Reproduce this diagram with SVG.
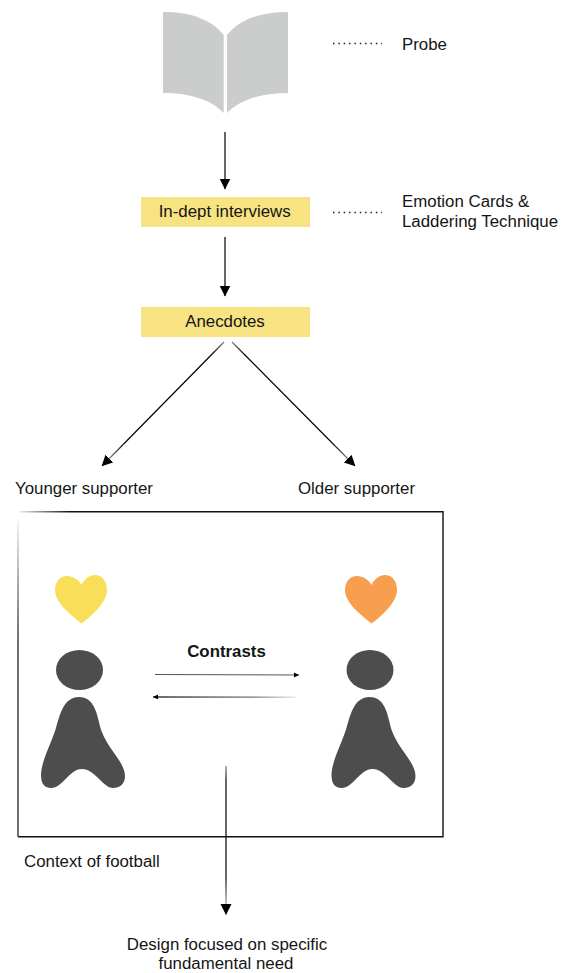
<svg xmlns="http://www.w3.org/2000/svg" width="571" height="973" viewBox="0 0 571 973">
<style>
text{font-family:"Liberation Sans",Arial,sans-serif;font-size:16.85px;fill:#151515}
.m{text-anchor:middle}
.box{fill:#f7e382}
.body{fill:#4d4d4d}
.ln{fill:none;stroke:#000;stroke-width:1.2}
.dot{fill:none;stroke:#222;stroke-width:1.3;stroke-dasharray:1.5 3.85}
.frame{fill:none;stroke:#111;stroke-width:1.4}
</style>
<defs>
<marker id="a" markerUnits="userSpaceOnUse" markerWidth="12" markerHeight="12" refX="10.500" refY="5.500" orient="auto"><path d="M0 0L11 5.500L0 11Z" fill="#000"/></marker>
<marker id="s" markerUnits="userSpaceOnUse" markerWidth="6" markerHeight="6" refX="5" refY="2.500" orient="auto"><path d="M0 0L5 2.500L0 5Z" fill="#000"/></marker>
<linearGradient id="ft" gradientUnits="userSpaceOnUse" x1="20" y1="0" x2="70" y2="0"><stop offset="0" stop-color="#111" stop-opacity="0.1"/><stop offset="1" stop-color="#111"/></linearGradient>
<linearGradient id="fl" gradientUnits="userSpaceOnUse" x1="0" y1="520" x2="0" y2="640"><stop offset="0" stop-color="#111" stop-opacity="0.05"/><stop offset="1" stop-color="#333"/></linearGradient>
<linearGradient id="dl" gradientUnits="userSpaceOnUse" x1="224" y1="342" x2="102" y2="466"><stop offset="0" stop-color="#000" stop-opacity="0.5"/><stop offset="0.1" stop-color="#000"/><stop offset="0.8" stop-color="#000"/><stop offset="1" stop-color="#000" stop-opacity="0.3"/></linearGradient>
<linearGradient id="dr" gradientUnits="userSpaceOnUse" x1="232" y1="342" x2="355" y2="466"><stop offset="0" stop-color="#000" stop-opacity="0.5"/><stop offset="0.1" stop-color="#000"/><stop offset="0.8" stop-color="#000"/><stop offset="1" stop-color="#000" stop-opacity="0.3"/></linearGradient>
<linearGradient id="cb" gradientUnits="userSpaceOnUse" x1="153" y1="0" x2="296" y2="0"><stop offset="0" stop-color="#333"/><stop offset="0.7" stop-color="#777"/><stop offset="1" stop-color="#999" stop-opacity="0.2"/></linearGradient>
<linearGradient id="vd" gradientUnits="userSpaceOnUse" x1="0" y1="766" x2="0" y2="905"><stop offset="0" stop-color="#000" stop-opacity="0.5"/><stop offset="0.1" stop-color="#000"/><stop offset="0.8" stop-color="#000"/><stop offset="1" stop-color="#000" stop-opacity="0.4"/></linearGradient>
<g id="person"><ellipse class="body" cx="79.500" cy="670" rx="23.500" ry="20"/><path class="body" d="M79 697C92 697 96 709 99 722C101 733 106 741 112 750C118 759 125 767 125 776C125 784 120 788 113 788C103 788 95 769 82 769C69 769 63 788 51 788C44 788 41 783 41 775C41 762 51 744 56 728C60 714 64 697 79 697Z"/></g>
<path id="heart" d="M81.500 585C84 579 90 575 95 575C102 575 107 581 107 590C107 602 92 616 81.500 623.500C71 615 55 603 55 590C55 582 60 576 67 576C73 576 79 580 81.500 585Z"/>
</defs>
<g id="connectors">
<path class="ln" marker-end="url(#a)" d="M225 132V189"/>
<path class="ln" stroke-width="1.400" marker-end="url(#a)" d="M225 237V296"/>
<path class="ln" style="stroke:url(#dl)" marker-end="url(#a)" d="M224 342L102 466"/>
<path class="ln" style="stroke:url(#dr)" marker-end="url(#a)" d="M232 342L355 466"/>
<path class="ln" style="stroke:#555;stroke-width:1" marker-end="url(#s)" d="M155 674.500L299 675"/>
<path class="ln" style="stroke:url(#cb);stroke-width:1.400" marker-end="url(#s)" d="M296 697.200L153 697"/>
<path class="ln" style="stroke:url(#vd)" marker-end="url(#a)" d="M226 766V914.500"/>
<path class="dot" d="M333 43.500H382"/>
<path class="dot" d="M333 212.500H382"/>
</g>
<g id="book"><path d="M163 12C192 12 212 20 223.700 35V113C212 100 190 93 163 93Z" fill="#cbcdcc"/><path d="M288 12C259 12 239 20 227 35V113C239 100 261 93 288 93Z" fill="#cbcdcc"/></g>
<g id="probe"><text x="402" y="49.500">Probe</text></g>
<g id="interviews"><rect class="box" x="141" y="197" width="169" height="30"/><text class="m" x="224.700" y="217">In-dept interviews</text></g>
<g id="cards"><text x="402" y="207">Emotion Cards &amp;</text><text x="402" y="227">Laddering Technique</text></g>
<g id="anecdotes"><rect class="box" x="141" y="307" width="169" height="30"/><text class="m" x="225" y="327">Anecdotes</text></g>
<g id="younger"><text x="15" y="494">Younger supporter</text></g>
<g id="older"><text x="298" y="494">Older supporter</text></g>
<g id="context"><path class="frame" style="stroke:url(#ft)" d="M20 511.700H70"/><path class="frame" d="M70 511.700H443V836.700H18"/><path class="frame" style="stroke:url(#fl)" d="M18 836.700V520"/><text x="24" y="867">Context of football</text></g>
<g id="left-person"><use href="#heart" fill="#f9de59"/><use href="#person"/></g>
<g id="right-person"><use href="#heart" x="290" fill="#f79f4e"/><use href="#person" x="290.500"/></g>
<g id="contrasts"><text class="m" x="226.500" y="656.500" style="font-weight:700">Contrasts</text></g>
<g id="design"><text class="m" x="227" y="949.500">Design focused on specific</text><text class="m" x="226" y="969">fundamental need</text></g>
</svg>
